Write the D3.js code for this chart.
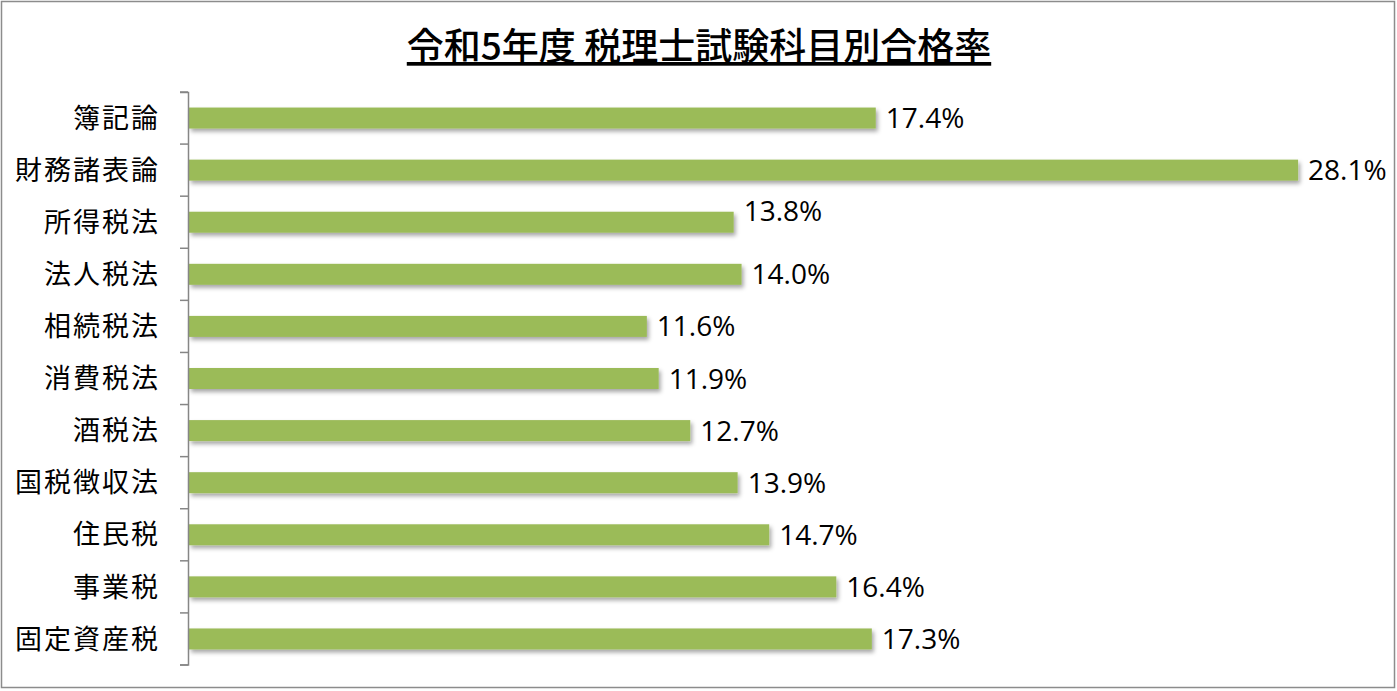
<!DOCTYPE html>
<html><head><meta charset="utf-8">
<script src="https://cdn.jsdelivr.net/npm/d3@7"></script>
<style>html,body{margin:0;padding:0;background:#fff;}</style>
</head><body>
<svg id="chart" width="1397" height="691"></svg>
<script>
const titleText = "令和5年度 税理士試験科目別合格率";
const categories = ["簿記論","財務諸表論","所得税法","法人税法","相続税法","消費税法","酒税法","国税徴収法","住民税","事業税","固定資産税"];
const rates = [17.4, 28.1, 13.8, 14.0, 11.6, 11.9, 12.7, 13.9, 14.7, 16.4, 17.3];

const svg = d3.select("#chart");
const cjk = "'Noto Sans CJK JP','Noto Sans',sans-serif";

// border
svg.append("rect").attr("x",1.5).attr("y",1.5).attr("width",1393).attr("height",686)
  .attr("fill","#fff").attr("stroke","#8c8c8c").attr("stroke-width",1.5);

// shadow filter
const defs = svg.append("defs");
const f = defs.append("filter").attr("id","sh").attr("x","-5%").attr("y","-50%").attr("width","110%").attr("height","200%");
f.append("feDropShadow").attr("dx",2).attr("dy",3).attr("stdDeviation",2).attr("flood-color","#000").attr("flood-opacity",0.35);

const x = d3.scaleLinear().domain([0,30]).range([189, 189 + 30*39.47]);
const y = d3.scaleBand().domain(categories).range([92, 665]).paddingInner(0).paddingOuter(0);
const barH = 21;

// title
svg.append("text").attr("x",699).attr("y",60).attr("text-anchor","middle")
  .attr("font-family",cjk).attr("font-size",37).attr("font-weight",500).attr("fill","#000")
  .attr("text-decoration","underline").text(titleText);

// bars
svg.append("g").selectAll("rect").data(categories).join("rect")
  .attr("x", x(0)).attr("y", d => y(d) + y.bandwidth()/2 - barH/2)
  .attr("width", (d,i) => x(rates[i]) - x(0)).attr("height", barH)
  .attr("fill","#9bbb59").attr("filter","url(#sh)");

// axis
const ax = d3.axisLeft(y).tickSize(0).tickFormat("");
const axG = svg.append("g").attr("transform","translate(188,0)").call(ax);
axG.select(".domain").attr("stroke","#868686").attr("stroke-width",1.5).attr("d","M-8,92.5H0.5V665H-8");
const bounds = d3.range(categories.length+1).map(i => 92 + i*y.step());
svg.append("g").selectAll("line").data(bounds).join("line")
  .attr("x1",180).attr("x2",188).attr("y1",d=>d).attr("y2",d=>d)
  .attr("stroke","#868686").attr("stroke-width",1.5);

// category labels
svg.append("g").selectAll("text").data(categories).join("text")
  .attr("x",160).attr("y", d => y(d) + y.bandwidth()/2)
  .attr("dy","0.36em").attr("text-anchor","end")
  .attr("font-family",cjk).attr("font-size",27).attr("letter-spacing","2px").attr("fill","#000").text(d=>d);

// value labels
const lift = {"所得税法": -11};
svg.append("g").selectAll("text").data(categories).join("text")
  .attr("x", (d,i) => x(rates[i]) + 10)
  .attr("y", d => y(d) + y.bandwidth()/2 + (lift[d]||0))
  .attr("dy","0.36em")
  .attr("font-family","'Open Sans','Noto Sans',sans-serif").attr("font-size",28).attr("fill","#000")
  .text((d,i) => rates[i].toFixed(1) + "%");
</script>
</body></html>
